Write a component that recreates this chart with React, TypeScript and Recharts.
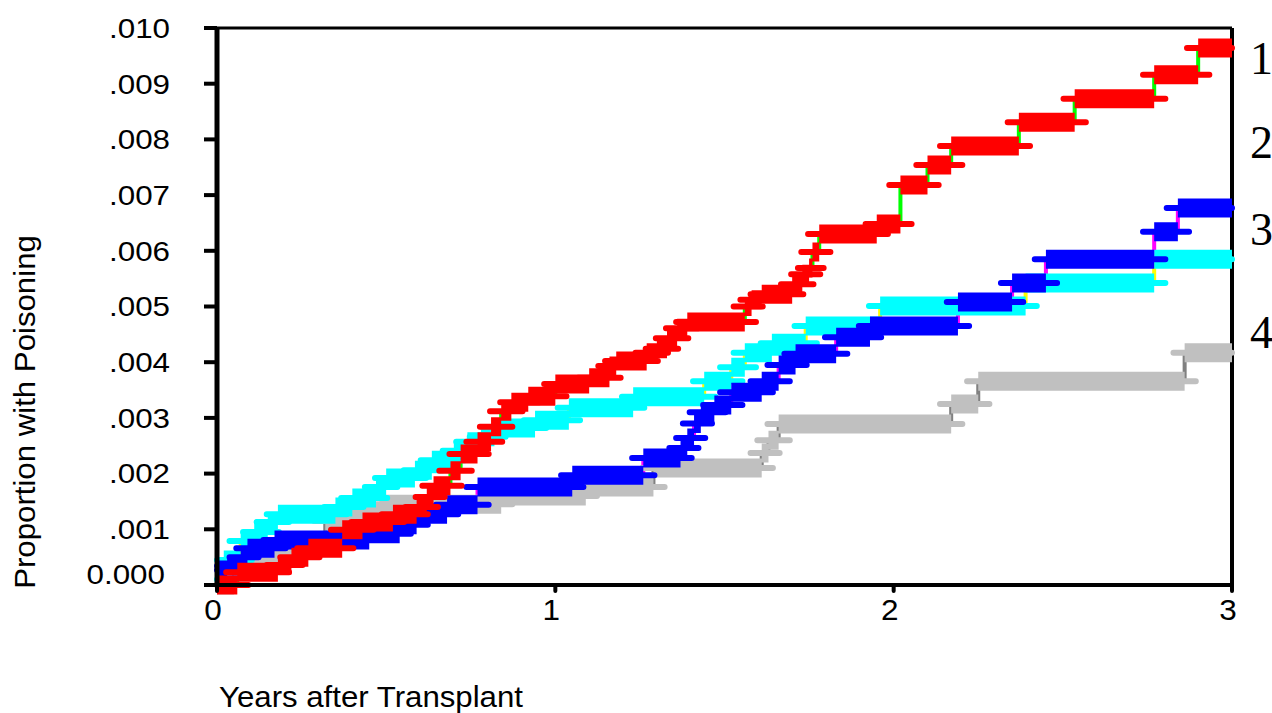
import React from "react";
import { LineChart, Line, XAxis, YAxis, ReferenceLine, Label } from "recharts";

// years after transplant (step start) and cumulative proportion for each group
const redTimes = [0, 0.06, 0.18, 0.22, 0.27, 0.37, 0.43, 0.52, 0.59, 0.62, 0.64, 0.69, 0.72, 0.77, 0.81, 0.84, 0.87, 0.92, 1.0, 1.1, 1.16, 1.18, 1.27, 1.3, 1.33, 1.36, 1.39, 1.56, 1.58, 1.61, 1.7, 1.73, 1.75, 1.76, 1.78, 1.95, 2.02, 2.1, 2.17, 2.37, 2.535, 2.77, 2.9];
const redValues = [0, 0.00023, 0.00036, 0.0005, 0.00066, 0.00099, 0.00113, 0.00127, 0.0014, 0.00158, 0.00178, 0.00205, 0.00235, 0.00257, 0.00284, 0.00312, 0.00328, 0.00339, 0.00361, 0.00372, 0.00393, 0.00402, 0.00417, 0.00424, 0.00443, 0.00461, 0.00472, 0.005, 0.00512, 0.00522, 0.0054, 0.00558, 0.00569, 0.00598, 0.0063, 0.00648, 0.00718, 0.00754, 0.00788, 0.00831, 0.00873, 0.00916, 0.00964];

const cyanTimes = [0, 0.02, 0.07, 0.11, 0.15, 0.18, 0.35, 0.4, 0.47, 0.5, 0.585, 0.635, 0.7, 0.74, 0.78, 0.82, 0.94, 1.04, 1.23, 1.44, 1.52, 1.56, 1.64, 1.74, 1.96, 2.39, 2.77];
const cyanValues = [0.0001, 0.00045, 0.00079, 0.00095, 0.00113, 0.00127, 0.0014, 0.00156, 0.00176, 0.00192, 0.00206, 0.00224, 0.00241, 0.00257, 0.00266, 0.00282, 0.00296, 0.00318, 0.00338, 0.00366, 0.00391, 0.00417, 0.00434, 0.00465, 0.00501, 0.00542, 0.00585];

const blueTimes = [0, 0.03, 0.07, 0.09, 0.17, 0.45, 0.54, 0.59, 0.68, 0.77, 1.05, 1.26, 1.37, 1.39, 1.41, 1.43, 1.47, 1.52, 1.61, 1.66, 1.71, 1.83, 1.93, 2.19, 2.35, 2.45, 2.77, 2.84];
const blueValues = [0.00027, 0.00034, 0.0005, 0.00066, 0.00081, 0.00092, 0.00108, 0.00127, 0.00144, 0.00176, 0.00197, 0.00228, 0.00246, 0.00264, 0.0029, 0.0031, 0.00323, 0.00346, 0.00366, 0.00395, 0.00415, 0.00445, 0.00465, 0.00508, 0.00542, 0.00585, 0.00634, 0.00677];

const grayTimes = [0, 0.05, 0.13, 0.19, 0.26, 0.32, 0.39, 0.48, 0.84, 1.09, 1.29, 1.61, 1.63, 1.66, 2.17, 2.25, 2.86];
const grayValues = [0, 0.00025, 0.00042, 0.0006, 0.0008, 0.00115, 0.0013, 0.00145, 0.0016, 0.00176, 0.0021, 0.00237, 0.0026, 0.00289, 0.00325, 0.00366, 0.00417];

const xTicks = [0, 1, 2, 3];
const yTicks = [0, 0.001, 0.002, 0.003, 0.004, 0.005, 0.006, 0.007, 0.008, 0.009, 0.01];
const yTickLabels = ["0.000", ".001", ".002", ".003", ".004", ".005", ".006", ".007", ".008", ".009", ".010"];
const groupLabels = ["1", "2", "3", "4"];

const MAX_YEARS = 3;
const WHISKER = 0.033;
const SANS = '"Liberation Sans", Arial, sans-serif';
const SERIF = '"Liberation Serif", "Times New Roman", serif';

// drawing order: bottom to top
const series = [
  { key: "gray", color: "#c0c0c0", joint: "#808080", times: grayTimes, values: grayValues },
  { key: "cyan", color: "#00ffff", joint: "#ffff00", times: cyanTimes, values: cyanValues },
  { key: "blue", color: "#0000ff", joint: "#ff00ff", times: blueTimes, values: blueValues },
  { key: "red", color: "#ff0000", joint: "#00ff00", times: redTimes, values: redValues },
];

// one flat segment per step, broken by nulls
function segments(times: number[], values: number[], ext: number) {
  const out: { t: number; v: number | null }[] = [];
  times.forEach((t, i) => {
    const end = i < times.length - 1 ? times[i + 1] : MAX_YEARS;
    out.push({ t: Math.max(0, t - ext), v: values[i] });
    out.push({ t: Math.min(MAX_YEARS, end + ext), v: values[i] });
    out.push({ t: end, v: null });
  });
  return out;
}

function steps(times: number[], values: number[]) {
  const pts = times.map((t, i) => ({ t, v: values[i] }));
  pts.push({ t: MAX_YEARS, v: values[values.length - 1] });
  return pts;
}

const YTick = (props: any) => {
  const { x, y, payload } = props;
  const i = yTicks.indexOf(payload.value);
  const zero = payload.value === 0;
  return (
    <text
      transform={`translate(${x + (zero ? -5 : 0)},${y + (zero ? -11 : 0)}) scale(1.12,1)`}
      textAnchor="end"
      dominantBaseline="central"
      fontFamily={SANS}
      fontSize={28}
      fill="#000"
    >
      {yTickLabels[i]}
    </text>
  );
};

const XTick = (props: any) => {
  const { x, y, payload } = props;
  return (
    <text
      transform={`translate(${x - 4},${y + 29}) scale(1.05,1)`}
      textAnchor="middle"
      fontFamily={SANS}
      fontSize={30}
      fill="#000"
    >
      {payload.value}
    </text>
  );
};

export default function App() {
  return (
    <div style={{ position: "absolute", left: 0, top: 0, width: 1272, height: 713, background: "#fff" }}>
      <LineChart width={1272} height={713} margin={{ top: 28, right: 40, bottom: 0, left: 0 }}>
        <XAxis
          type="number"
          dataKey="t"
          domain={[0, MAX_YEARS]}
          ticks={xTicks}
          height={128}
          tickSize={6}
          tickMargin={0}
          tick={<XTick />}
          axisLine={{ stroke: "#000", strokeWidth: 4 }}
          tickLine={{ stroke: "#000", strokeWidth: 4, strokeLinecap: "round" }}
        >
          <Label
            content={() => (
              <text transform="translate(219,707) scale(1.04,1)" fontFamily={SANS} fontSize={30} fill="#000">
                Years after Transplant
              </text>
            )}
          />
        </XAxis>
        <YAxis
          type="number"
          domain={[0, 0.01]}
          ticks={yTicks}
          width={217}
          tickSize={13}
          tickMargin={34}
          tick={<YTick />}
          axisLine={{ stroke: "#000", strokeWidth: 5 }}
          tickLine={{ stroke: "#000", strokeWidth: 4 }}
        >
          <Label
            content={() => (
              <text
                transform="translate(35,412) rotate(-90) scale(1.04,1)"
                textAnchor="middle"
                fontFamily={SANS}
                fontSize={30}
                fill="#000"
              >
                Proportion with Poisoning
              </text>
            )}
          />
        </YAxis>
        <ReferenceLine y={0.01} stroke="#000" strokeWidth={3} />
        <ReferenceLine x={MAX_YEARS} stroke="#000" strokeWidth={4} />

        {series.map((s) => (
          <Line
            key={`${s.key}-joint`}
            data={steps(s.times, s.values)}
            dataKey="v"
            type="stepAfter"
            stroke={s.joint}
            strokeWidth={4}
            dot={false}
            activeDot={false}
            isAnimationActive={false}
          />
        ))}
        {series.flatMap((s) => [
          <Line
            key={`${s.key}-whisker`}
            data={segments(s.times, s.values, WHISKER)}
            dataKey="v"
            type="linear"
            stroke={s.color}
            strokeWidth={6}
            strokeLinecap="round"
            dot={false}
            activeDot={false}
            isAnimationActive={false}
          />,
          <Line
            key={`${s.key}-band`}
            data={segments(s.times, s.values, 0)}
            dataKey="v"
            type="linear"
            stroke={s.color}
            strokeWidth={19}
            strokeLinecap="butt"
            dot={false}
            activeDot={false}
            isAnimationActive={false}
          />,
        ])}
      </LineChart>
      <svg width={1272} height={713} style={{ position: "absolute", left: 0, top: 0, pointerEvents: "none" }}>
        {groupLabels.map((g, i) => (
          <text key={g} x={1250} y={[74, 158, 245, 348][i]} fontFamily={SERIF} fontSize={46} fill="#000">
            {g}
          </text>
        ))}
      </svg>
    </div>
  );
}
